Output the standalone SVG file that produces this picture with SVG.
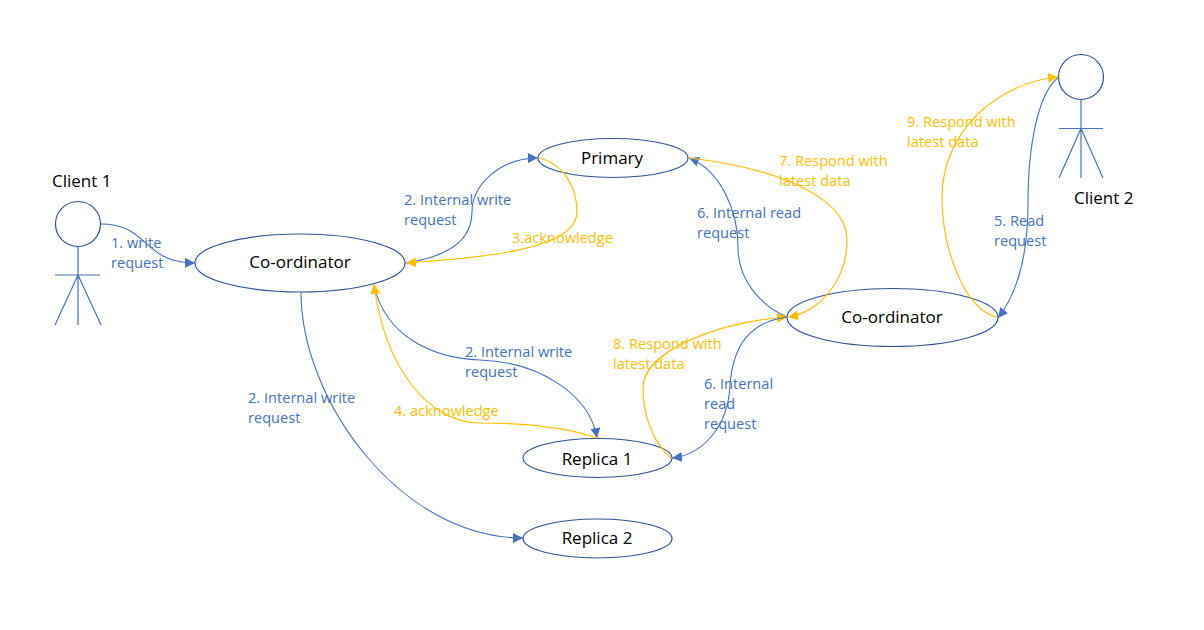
<svg xmlns="http://www.w3.org/2000/svg" width="1204" height="630" viewBox="0 0 1204 630">
<style>
text{font-family:"Open Sans","Noto Sans","Liberation Sans",sans-serif;font-size:14.6px}
.k{fill:#000;font-size:17px}
.b{fill:#4472c4}
.y{fill:#ffc000}
.n{fill:#fff;stroke:#2f5597;stroke-width:1.2}
.f{fill:none;stroke:#4472c4;stroke-width:1.2}
.cb{fill:none;stroke:#4472c4;stroke-width:1.1;marker-end:url(#ab)}
.cy{fill:none;stroke:#ffc000;stroke-width:1.2;marker-end:url(#ay)}
</style>
<defs>
<marker id="ab" markerUnits="userSpaceOnUse" markerWidth="12" markerHeight="12" refX="10" refY="5" orient="auto"><path d="M0,0L10,5L0,10Z" fill="#4472c4"/></marker>
<marker id="ay" markerUnits="userSpaceOnUse" markerWidth="12" markerHeight="12" refX="10" refY="5" orient="auto"><path d="M0,0L10,5L0,10Z" fill="#ffc000"/></marker>
</defs>
<rect width="1204" height="630" fill="#fff"/>
<g id="nodes">
<g id="client1"><circle class="n" cx="78" cy="224" r="22.500"/><path class="f" d="M78,246.500V325M55,275H100M78,275L55,325M78,275L101,325"/><text class="k" x="52" y="187">Client 1</text></g>
<g id="coord1"><ellipse class="n" cx="300" cy="263" rx="105" ry="29"/><text class="k" x="300" y="268" text-anchor="middle">Co-ordinator</text></g>
<g id="primary"><ellipse class="n" cx="613" cy="158" rx="75" ry="19.500"/><text class="k" x="612" y="164" text-anchor="middle">Primary</text></g>
<g id="coord2"><ellipse class="n" cx="892.500" cy="317.500" rx="105.500" ry="29"/><text class="k" x="892" y="323" text-anchor="middle">Co-ordinator</text></g>
<g id="replica1"><ellipse class="n" cx="597.500" cy="458" rx="74.500" ry="19.500"/><text class="k" x="597" y="465" text-anchor="middle">Replica 1</text></g>
<g id="replica2"><ellipse class="n" cx="597.500" cy="538.500" rx="74.500" ry="19.500"/><text class="k" x="597" y="544" text-anchor="middle">Replica 2</text></g>
<g id="client2"><circle class="n" cx="1081" cy="77" r="22.500"/><path class="f" d="M1081,99.500V178M1059,128.500H1103M1081,128.500L1059,178M1081,128.500L1103,178"/><text class="k" x="1074" y="204">Client 2</text></g>
</g>
<g id="connectors">
<path class="cb" d="M101,224C150,224 140,262 195,263"/>
<path class="cb" d="M405,263C440,258 472,245 472,212C472,185 500,158 538,158"/>
<path class="cy" d="M538,158C565,163 577,190 577,212C577,250 480,258 406,263"/>
<path class="cb" d="M301,292C301,400 400,538 523,538"/>
<path class="cb" d="M374,285C385,335 430,358 480,360C540,362 590,395 597,438"/>
<path class="cy" d="M597,438C560,425 510,423 480,423C430,423 385,370 374,284"/>
<path class="cb" d="M787,317C760,305 738,280 738,247C738,210 720,170 689,158"/>
<path class="cy" d="M689,158C770,167 847,195 847,240C847,280 820,312 788,317"/>
<path class="cy" d="M671,458C650,440 643,410 643,388C643,350 720,322 787,317"/>
<path class="cb" d="M787,317C750,322 733,345 730,385C728,430 700,455 672,458"/>
<path class="cb" d="M1059,77C1040,90 1028,140 1028,203C1028,250 1020,290 998,318"/>
<path class="cy" d="M997,317C965,310 942,250 942,197C942,130 1000,82 1058,77"/>
</g>
<g id="labels">
<text class="b" x="111" y="248">1. write</text><text class="b" x="111" y="268">request</text>
<text class="b" x="404" y="205">2. Internal write</text><text class="b" x="404" y="225">request</text>
<text class="y" x="512" y="243">3.acknowledge</text>
<text class="b" x="465" y="357">2. Internal write</text><text class="b" x="465" y="377">request</text>
<text class="b" x="248" y="403">2. Internal write</text><text class="b" x="248" y="423">request</text>
<text class="y" x="394" y="416">4. acknowledge</text>
<text class="y" x="613" y="349">8. Respond with</text><text class="y" x="613" y="369">latest data</text>
<text class="b" x="704" y="389">6. Internal</text><text class="b" x="704" y="409">read</text><text class="b" x="704" y="429">request</text>
<text class="b" x="697" y="218">6. Internal read</text><text class="b" x="697" y="238">request</text>
<text class="y" x="779" y="166">7. Respond with</text><text class="y" x="779" y="186">latest data</text>
<text class="y" x="907" y="127">9. Respond with</text><text class="y" x="907" y="147">latest data</text>
<text class="b" x="994" y="226">5. Read</text><text class="b" x="994" y="246">request</text>
</g>
</svg>
